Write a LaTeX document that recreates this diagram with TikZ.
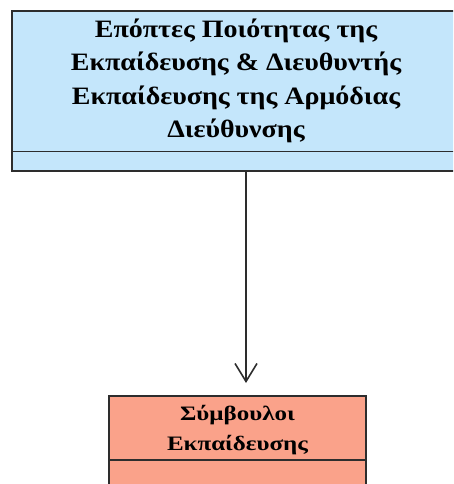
\documentclass[tikz,border=0pt]{standalone}
\usepackage{fontspec}
\setmainfont{Liberation Serif}
\usetikzlibrary{arrows.meta}
\definecolor{boxblue}{RGB}{196,230,251}
\definecolor{boxsalmon}{RGB}{250,162,138}
\definecolor{edge}{RGB}{45,45,45}
\newcommand{\wideA}[1]{\scalebox{1.12}[1]{#1}}
\newcommand{\wideB}[1]{\scalebox{1.22}[1]{#1}}
\tikzset{
  classbox/.style={draw=edge, line width=1.6pt, rectangle, inner sep=0pt},
  sep/.style={draw=edge, line width=1.6pt},
  toptext/.style={font=\fontsize{25}{33.5}\selectfont\bfseries, align=center, inner sep=0pt},
  bottext/.style={font=\fontsize{20.5}{30}\selectfont\bfseries, align=center, inner sep=0pt},
  assoc/.style={draw=edge, line width=1.6pt, -{Straight Barb[length=18pt,width=22pt,line width=1.6pt]}, shorten >=12pt}
}
\begin{document}
\begin{tikzpicture}[x=1pt,y=1pt]
\useasboundingbox (0,0) rectangle (453,-484);
\clip (0,0) rectangle (453,-484);
\node[classbox, fill=boxblue, minimum width=452pt, minimum height=160pt, anchor=north west] (top) at (11,-10) {};
\draw[sep] ([yshift=20pt]top.south west) -- ([yshift=20pt]top.south east);
\node[toptext] (toplabel) at (236,-81) {\wideA{Επόπτες Ποιότητας της}\\\wideA{Εκπαίδευσης \& Διευθυντής}\\\wideA{Εκπαίδευσης της Αρμόδιας}\\\wideA{Διεύθυνσης}};
\node[classbox, fill=boxsalmon, minimum width=257pt, minimum height=120pt, anchor=north west] (bot) at (108,-395) {};
\draw[sep] ([yshift=-65pt]bot.north west) -- ([yshift=-65pt]bot.north east);
\node[bottext] (botlabel) at (237.5,-430) {\wideB{Σύμβουλοι}\\\wideB{Εκπαίδευσης}};
\coordinate (src) at (246,-170);
\draw[assoc] (src) -- (src |- bot.north);
\end{tikzpicture}
\end{document}
